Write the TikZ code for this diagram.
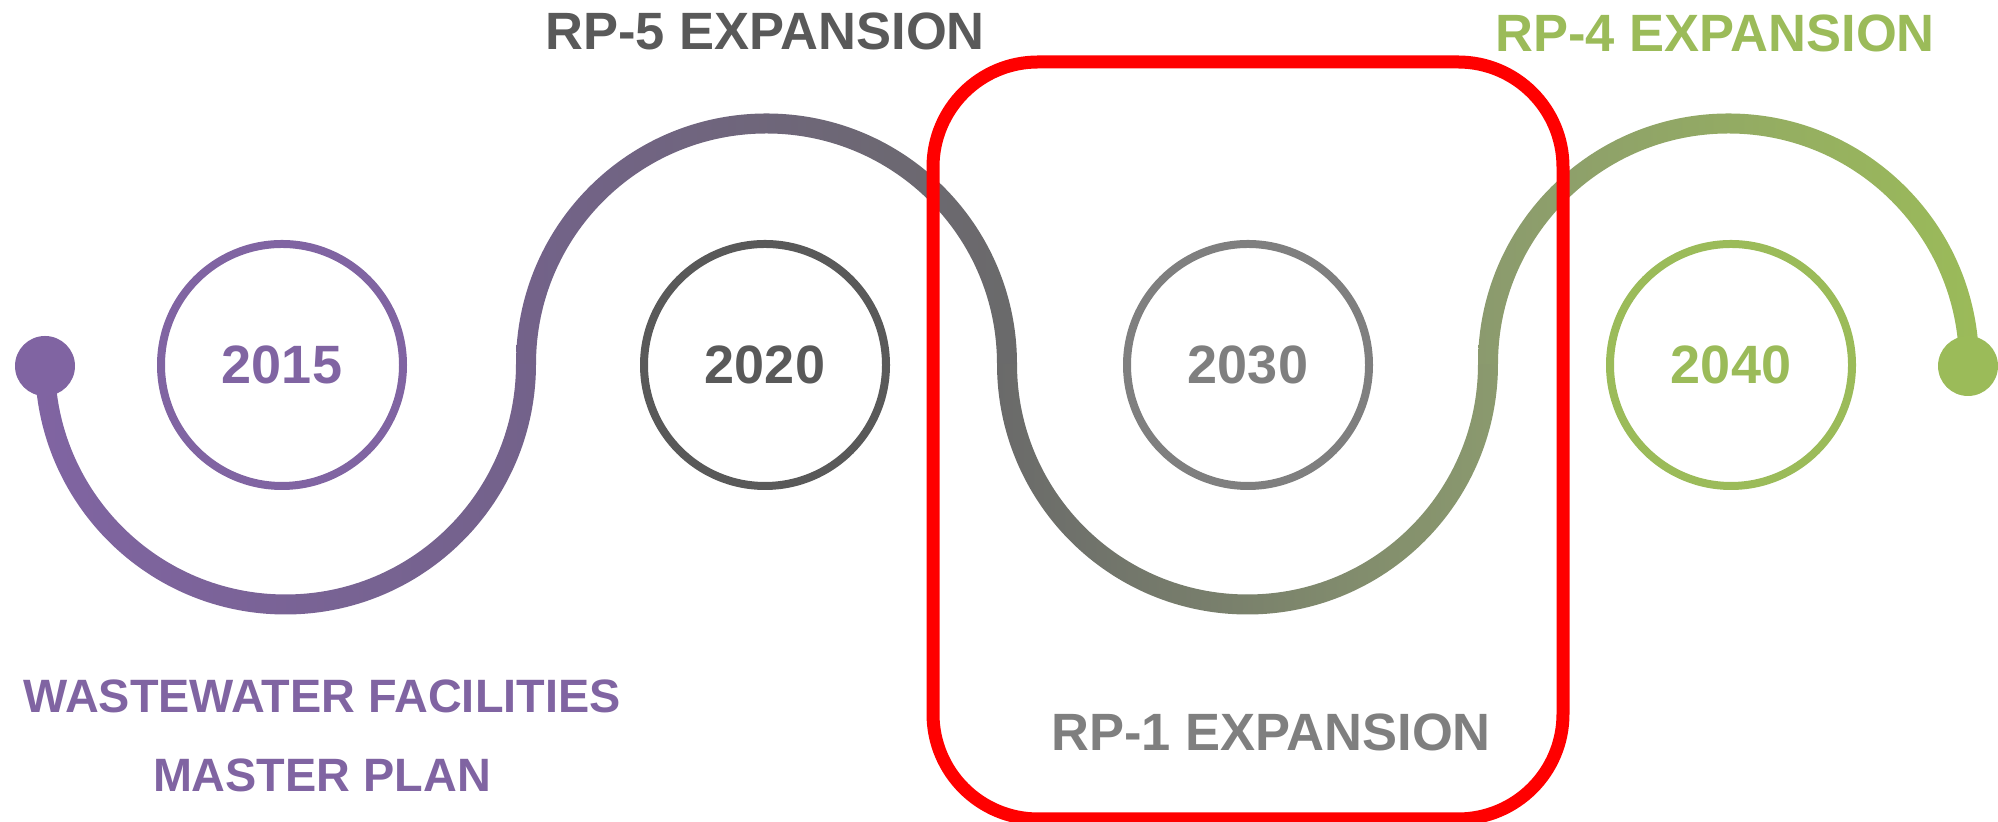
\documentclass[tikz,border=0pt]{standalone}
\usepackage{fontspec}
\setmainfont{Liberation Sans}
\definecolor{cpurple}{HTML}{8064A2}
\definecolor{cpurplegray}{HTML}{73628A}
\definecolor{cdark}{HTML}{5D5D5D}
\definecolor{cdarktext}{HTML}{595959}
\definecolor{cmid}{HTML}{6A6A6A}
\definecolor{cgray}{HTML}{7F7F7F}
\definecolor{cgreengray}{HTML}{8B9A6E}
\definecolor{cgreen}{HTML}{9BBB59}
\definecolor{cred}{HTML}{FF0000}
\tikzset{
  yearcircle/.style={circle, draw=#1, text=#1, line width=4pt, minimum size=121pt, inner sep=0pt,
    font=\bfseries\fontsize{27pt}{30pt}\selectfont},
  enddot/.style={circle, fill=#1, minimum size=30pt, inner sep=0pt},
  title/.style={anchor=base, text=#1, inner sep=0pt, font=\bfseries\fontsize{26.25pt}{30pt}\selectfont},
  subtitle/.style={anchor=base, text=#1, inner sep=0pt, font=\bfseries\fontsize{23.4pt}{28pt}\selectfont},
  redframe/.style={draw=cred, line width=6.5pt, rounded corners=52.5pt}
}
\begin{document}
\begin{tikzpicture}[x=0.5pt,y=0.5pt]
\useasboundingbox (0,0) rectangle (1998,822);
% gradient timeline path, built from four half rings
\shade[left color=cpurple, middle color=cpurple, right color=cpurplegray]
  (35,458) arc[start angle=180, end angle=360, radius=250.5] -- (516,458)
  arc[start angle=0, end angle=-180, radius=230.5] -- cycle;
\shade[left color=cpurplegray, middle color=cdark, right color=cmid]
  (516,458) arc[start angle=180, end angle=0, radius=250.5] -- (997,458)
  arc[start angle=0, end angle=180, radius=230.5] -- cycle;
\shade[left color=cmid, middle color=cgray, right color=cgreengray]
  (997,458) arc[start angle=180, end angle=360, radius=250.5] -- (1478,458)
  arc[start angle=0, end angle=-180, radius=230.5] -- cycle;
\shade[left color=cgreengray, middle color=cgreen, right color=cgreen]
  (1478,458) arc[start angle=180, end angle=0, radius=250.5] -- (1959,458)
  arc[start angle=0, end angle=180, radius=230.5] -- cycle;
% end dots
\node[enddot=cpurple] (start) at (45,456) {};
\node[enddot=cgreen] (finish) at (1968,456) {};
% year circles
\node[yearcircle=cpurple] (y2015) at (282,457) {2015};
\node[yearcircle=cdarktext] (y2020) at (765,457) {2020};
\node[yearcircle=cgray] (y2030) at (1248,457) {2030};
\node[yearcircle=cgreen] (y2040) at (1731,457) {2040};
% red frame
\draw[redframe] (933,760) rectangle (1563,3);
% labels
\node[title=cdarktext] (rp5) at (765,772) {RP-5 EXPANSION};
\node[title=cgreen] (rp4) at (1715,770) {RP-4 EXPANSION};
\node[title=cgray] (rp1) at (1271,71) {RP-1 EXPANSION};
\node[subtitle=cpurple] (wfmp1) at (322,109) {WASTEWATER FACILITIES};
\node[subtitle=cpurple] (wfmp2) at (322,30) {MASTER PLAN};
\end{tikzpicture}
\end{document}
